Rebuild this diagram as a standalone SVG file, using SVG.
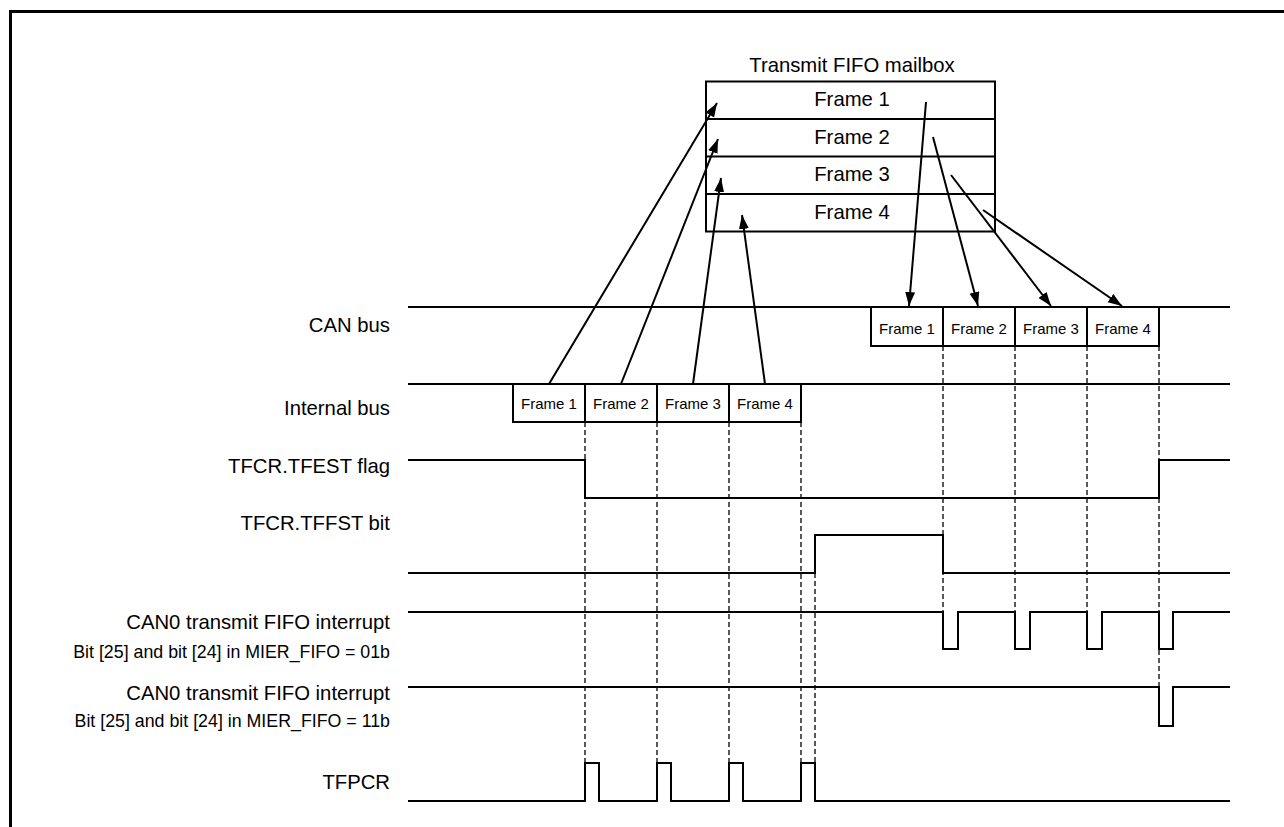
<svg xmlns="http://www.w3.org/2000/svg" width="1284" height="827" viewBox="0 0 1284 827">
<defs>
<style>
text{font-family:"Liberation Sans",Arial,sans-serif;fill:#000}
.lbl{font-size:20.3px;text-anchor:end}
.sub{font-size:17.8px;text-anchor:end}
.mb{font-size:20.3px;text-anchor:middle}
.fr{font-size:15px;text-anchor:middle}
.box{fill:#fff;stroke:#000;stroke-width:2}
.wave{fill:none;stroke:#000;stroke-width:2}
.dash{fill:none;stroke:#000;stroke-width:1.3;stroke-dasharray:5,3}
.arr{fill:none;stroke:#000;stroke-width:2;marker-end:url(#ah)}
</style>
<marker id="ah" markerWidth="16" markerHeight="12" refX="14" refY="5" orient="auto" markerUnits="userSpaceOnUse"><path d="M0,0 L14,5 L0,10 z" fill="#000"/></marker>
</defs>
<rect width="1284" height="827" fill="#fff"/>
<path d="M10.5,827 V11.5 H1284" fill="none" stroke="#000" stroke-width="3"/>

<g id="labels">
<text class="lbl" x="390" y="332">CAN bus</text>
<text class="lbl" x="390" y="415">Internal bus</text>
<text class="lbl" x="390" y="473">TFCR.TFEST flag</text>
<text class="lbl" x="390" y="530">TFCR.TFFST bit</text>
<text class="lbl" x="390" y="629">CAN0 transmit FIFO interrupt</text>
<text class="sub" x="390" y="658">Bit [25] and bit [24] in MIER_FIFO = 01b</text>
<text class="lbl" x="390" y="700">CAN0 transmit FIFO interrupt</text>
<text class="sub" x="390" y="727">Bit [25] and bit [24] in MIER_FIFO = 11b</text>
<text class="lbl" x="390" y="789">TFPCR</text>
</g>

<g id="waveforms">
<path class="wave" d="M408,307 H1230"/>
<path class="wave" d="M408,384 H1230"/>
<path class="wave" d="M408,460 H585 V498 H1159 V460 H1230"/>
<path class="wave" d="M408,573 H815 V535 H943 V573 H1230"/>
<path class="wave" d="M408,612 H943 V649 H958 V612 H1015 V649 H1030 V612 H1087 V649 H1102 V612 H1159 V649 H1173 V612 H1230"/>
<path class="wave" d="M408,687 H1159 V726 H1173 V687 H1230"/>
<path class="wave" d="M408,801 H585 V763 H599 V801 H657 V763 H671 V801 H729 V763 H743 V801 H801 V763 H815 V801 H1230"/>
</g>

<g id="mailbox">
<text class="mb" x="852" y="72">Transmit FIFO mailbox</text>
<rect class="box" x="706" y="81.5" width="289" height="150"/>
<path class="wave" d="M706,119 H995 M706,156.5 H995 M706,194 H995"/>
<text class="mb" x="852" y="106">Frame 1</text>
<text class="mb" x="852" y="144">Frame 2</text>
<text class="mb" x="852" y="181">Frame 3</text>
<text class="mb" x="852" y="219">Frame 4</text>
</g>

<g id="ib-frame1"><rect class="box" x="513" y="384" width="72" height="38"/><text class="fr" x="549" y="409">Frame 1</text></g>
<g id="ib-frame2"><rect class="box" x="585" y="384" width="72" height="38"/><text class="fr" x="621" y="409">Frame 2</text></g>
<g id="ib-frame3"><rect class="box" x="657" y="384" width="72" height="38"/><text class="fr" x="693" y="409">Frame 3</text></g>
<g id="ib-frame4"><rect class="box" x="729" y="384" width="72" height="38"/><text class="fr" x="765" y="409">Frame 4</text></g>

<g id="can-frame1"><rect class="box" x="871" y="307" width="72" height="39"/><text class="fr" x="907" y="334">Frame 1</text></g>
<g id="can-frame2"><rect class="box" x="943" y="307" width="72" height="39"/><text class="fr" x="979" y="334">Frame 2</text></g>
<g id="can-frame3"><rect class="box" x="1015" y="307" width="72" height="39"/><text class="fr" x="1051" y="334">Frame 3</text></g>
<g id="can-frame4"><rect class="box" x="1087" y="307" width="72" height="39"/><text class="fr" x="1123" y="334">Frame 4</text></g>

<g id="connectors">
<path class="arr" d="M549,384 L717,103"/>
<path class="arr" d="M621,384 L718,139"/>
<path class="arr" d="M693,384 L721,178"/>
<path class="arr" d="M765,384 L742,215"/>
<path class="arr" d="M926,102 L909,306"/>
<path class="arr" d="M933,137 L978,306"/>
<path class="arr" d="M951,175 L1051,306"/>
<path class="arr" d="M983,210 L1122,306"/>
<path class="dash" d="M585,422 V763 M657,422 V763 M729,422 V763 M801,422 V763 M815,573 V763"/>
<path class="dash" d="M943,346 V612 M1015,346 V612 M1087,346 V612 M1159,346 V687"/>
</g>
</svg>
